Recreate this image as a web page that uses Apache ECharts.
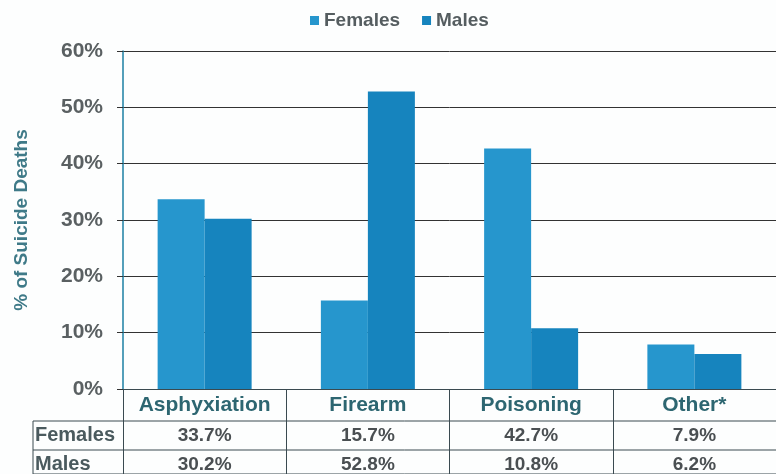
<!DOCTYPE html>
<html>
<head>
<meta charset="utf-8">
<script src="https://cdn.jsdelivr.net/npm/echarts@6/dist/echarts.min.js"></script>
<style>
  html, body { margin: 0; padding: 0; background: #fdfefe; }
  #chart { width: 776px; height: 474px; }
</style>
</head>
<body>
<div id="chart"></div>
<script>
// suicide deaths by method and sex
var categories = ["Asphyxiation", "Firearm", "Poisoning", "Other*"];
var females = [33.7, 15.7, 42.7, 7.9];
var males = [30.2, 52.8, 10.8, 6.2];
var yTicks = [0, 10, 20, 30, 40, 50, 60];

(function () {
  var myChart = echarts.init(document.getElementById("chart"));
  var font = "Liberation Sans, Arial, sans-serif";
  // plot box
  var gLeft = 123, gTop = 51, gBottom = 389, catW = 165;
  var headH = 32, rowH = 29;
  var rowLeft = 33;
  var lineCol = "#3a4a50";

  var table = [];
  // horizontal table lines
  [gBottom + headH, gBottom + headH + rowH, 474].forEach(function (y) {
    table.push({
      type: "line",
      shape: { x1: rowLeft, y1: y, x2: 776, y2: y },
      style: { stroke: lineCol, lineWidth: 1 },
    });
  });
  table.push({
    type: "line",
    shape: { x1: rowLeft, y1: gBottom + headH, x2: rowLeft, y2: 474 },
    style: { stroke: lineCol, lineWidth: 1 },
  });
  ["Females", "Males"].forEach(function (t, i) {
    table.push({
      type: "text",
      left: rowLeft + 2,
      top: gBottom + headH + i * rowH + 4,
      style: { text: t, font: "bold 20px " + font, fill: "#4a5a5e" },
    });
  });

  option = {
    backgroundColor: "#fdfefe",
    textStyle: { fontFamily: font },
    legend: {
      top: 6,
      left: 305,
      itemWidth: 9,
      itemHeight: 9,
      itemGap: 22,
      icon: "rect",
      textStyle: { fontSize: 19, fontWeight: "bold", color: "#555d60" },
      data: ["Females", "Males"],
    },
    grid: { left: gLeft, top: gTop, width: catW * 4, height: gBottom - gTop },
    xAxis: {
      type: "category",
      data: categories,
      axisLine: { show: true, lineStyle: { color: lineCol, width: 1 } },
      axisTick: {
        show: true,
        length: 86,
        lineStyle: { color: lineCol, width: 1 },
      },
      axisLabel: {
        margin: 0,
        interval: 0,
        formatter: function (v, i) {
          return (
            "{h|" + v + "}\n{v|" + females[i].toFixed(1) + "%}\n{v|" +
            males[i].toFixed(1) + "%}"
          );
        },
        rich: {
          h: {
            fontSize: 21,
            fontWeight: "bold",
            color: "#2d6671",
            lineHeight: headH,
            fontFamily: font,
          },
          v: {
            fontSize: 19,
            fontWeight: "bold",
            color: "#4a4f52",
            lineHeight: rowH,
            fontFamily: font,
          },
        },
      },
    },
    yAxis: {
      type: "value",
      min: 0,
      max: 60,
      interval: 10,
      name: "% of Suicide Deaths",
      nameLocation: "middle",
      nameGap: 92,
      nameTextStyle: { fontSize: 19, fontWeight: "bold", color: "#3f7a88" },
      axisLine: { show: true, lineStyle: { color: "#1b7fa3", width: 1.5 } },
      axisTick: { show: true, length: 6, lineStyle: { color: "#333" } },
      axisLabel: {
        margin: 20,
        fontSize: 21,
        fontWeight: "bold",
        color: "#5a6062",
        formatter: function (v) {
          return yTicks.indexOf(v) >= 0 ? v + "%" : "";
        },
      },
      splitLine: { show: true, lineStyle: { color: "#333", width: 1 } },
    },
    series: [
      {
        name: "Females",
        type: "bar",
        data: females,
        barWidth: 47,
        barGap: "0%",
        itemStyle: { color: "#2696cd" },
      },
      {
        name: "Males",
        type: "bar",
        data: males,
        barWidth: 47,
        itemStyle: { color: "#1684be" },
      },
    ],
    graphic: table,
  };
  myChart.setOption(option);
  window.addEventListener("resize", function () {
    myChart.resize();
  });
})();
</script>
</body>
</html>
